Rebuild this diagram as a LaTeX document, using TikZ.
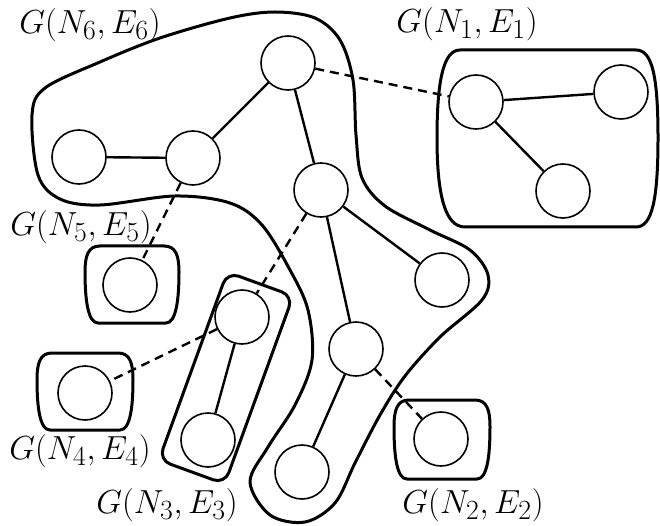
\documentclass[tikz,border=0pt]{standalone}

\begin{document}
\begin{tikzpicture}[x=1pt,y=-1pt,
  vtx/.style={circle,draw,line width=1.6pt,minimum size=54pt,inner sep=0pt},
  edge/.style={line width=2.4pt},
  link/.style={line width=2.4pt,dash pattern=on 9pt off 6pt},
  grp/.style={line width=3pt,line join=round},
  lbl/.style={inner sep=0pt,font=\Huge,scale=1.34,transform shape}]
\useasboundingbox (0,0) rectangle (660,526);
% group outlines
\draw[grp] plot[smooth cycle,tension=0.55] coordinates {(32,115) (45,88) (100,62) (160,38) (230,18) (275,12) (315,18) (340,40) (353,80) (356,135) (362,178) (385,206) (430,230) (470,250) (488,275) (482,300) (440,337) (405,376) (380,415) (355,463) (335,503) (305,522) (270,515) (250,482) (268,447) (295,405) (312,360) (308,310) (290,270) (262,225) (230,203) (175,196) (100,205) (60,199) (38,175)};
\draw[grp] (460,50) -- (636,50) .. controls (652,50) and (658,75) .. (658,138) .. controls (658,200) and (652,227) .. (636,227) -- (465,227) .. controls (445,227) and (437,195) .. (437,138) .. controls (437,82) and (443,50) .. (460,50) -- cycle;
\draw[grp] (409,400) -- (475,400) .. controls (487,400) and (490,410) .. (490,427) .. controls (490,457) and (487,479) .. (477,479) -- (407,479) .. controls (397,479) and (394,457) .. (394,427) .. controls (394,410) and (397,400) .. (409,400) -- cycle;
\draw[grp,rounded corners=12pt,rotate around={-20:(226,378)}] (191,278) rectangle (261,478);
\draw[grp] (52,353) -- (118,353) .. controls (130,353) and (133,363) .. (133,380) .. controls (133,408) and (130,430) .. (120,430) -- (50,430) .. controls (40,430) and (37,408) .. (37,380) .. controls (37,363) and (40,353) .. (52,353) -- cycle;
\draw[grp] (100,246) -- (164,246) .. controls (176,246) and (179,256) .. (179,272) .. controls (179,300) and (176,323) .. (166,323) -- (98,323) .. controls (88,323) and (85,300) .. (85,272) .. controls (85,256) and (88,246) .. (100,246) -- cycle;
% vertices
\node[vtx] (g6a) at (79,157) {};
\node[vtx] (g6b) at (193,158) {};
\node[vtx] (g6c) at (288,63) {};
\node[vtx] (g6d) at (321,190) {};
\node[vtx] (g6e) at (442,280) {};
\node[vtx] (g6f) at (356,349) {};
\node[vtx] (g6g) at (302,472) {};
\node[vtx] (g1a) at (476,102) {};
\node[vtx] (g1b) at (621,92) {};
\node[vtx] (g1c) at (563,191) {};
\node[vtx] (g2a) at (441,439) {};
\node[vtx] (g3a) at (242,317) {};
\node[vtx] (g3b) at (208,440) {};
\node[vtx] (g4a) at (85,393) {};
\node[vtx] (g5a) at (130,285) {};
% edges
\draw[edge] (g6a) -- (g6b);
\draw[edge] (g6b) -- (g6c);
\draw[edge] (g6c) -- (g6d);
\draw[edge] (g6d) -- (g6e);
\draw[edge] (g6d) -- (g6f);
\draw[edge] (g6f) -- (g6g);
\draw[edge] (g1a) -- (g1b);
\draw[edge] (g1a) -- (g1c);
\draw[edge] (g3a) -- (g3b);
\draw[link] (g6c) -- (g1a);
\draw[link] (g6b) -- (g5a);
\draw[link] (g6d) -- (g3a);
\draw[link] (g3a) -- (g4a);
\draw[link] (g6f) -- (g2a);
% labels
\node[lbl] (lg6) at (90,25) {$G(N_6,E_6)$};
\node[lbl] (lg1) at (467,24) {$G(N_1,E_1)$};
\node[lbl] (lg5) at (81,227) {$G(N_5,E_5)$};
\node[lbl] (lg4) at (80,451) {$G(N_4,E_4)$};
\node[lbl] (lg3) at (167,505) {$G(N_3,E_3)$};
\node[lbl] (lg2) at (473,505) {$G(N_2,E_2)$};
\end{tikzpicture}
\end{document}
